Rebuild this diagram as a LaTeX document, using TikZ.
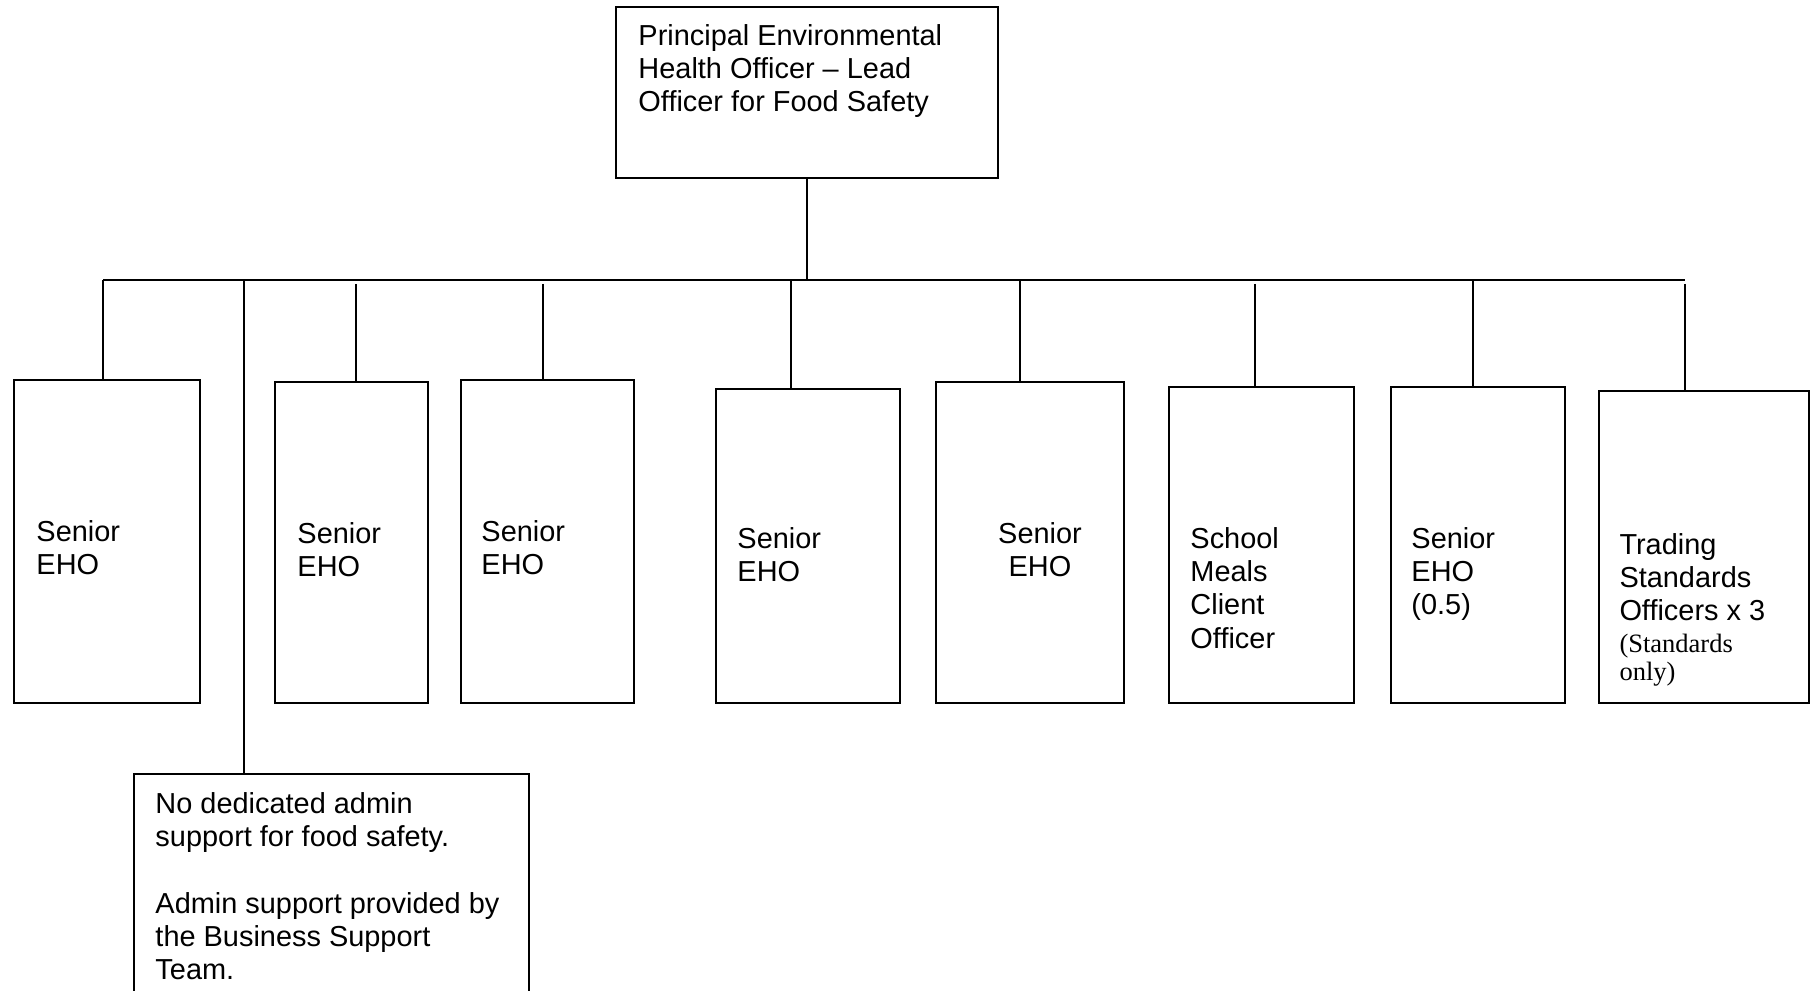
\documentclass[tikz,border=0pt]{standalone}
\usepackage{fontspec}
\setmainfont{Liberation Sans}
\newfontfamily\timesfont{Liberation Serif}
\usetikzlibrary{fit}
\tikzset{
    x=0.415pt, % one unit is one pixel of the chart
    y=-0.415pt, % y runs downwards, as on the page
    every node/.style={font=\fontsize{12}{13.8}\selectfont}, % Arial-like 12pt text
    post/.style={draw, line width=0.8pt, inner sep=0pt}, % the boxes of the chart
    words/.style={inner sep=0pt, align=left}, % the text set inside a box
    link/.style={line width=0.8pt}, % the lines joining the boxes
}

\begin{document}
\begin{tikzpicture}
    \useasboundingbox (0,0) rectangle (1815,991);
    % top of the chart
    \node[post, fit={(616,7) (998,178)}] (peho) {};
    \node[words, anchor=north west] (pehotxt) at (638,24) {Principal Environmental\\Health Officer – Lead\\Officer for Food Safety};
    % the row of posts
    \node[post, fit={(14,380) (200,703)}] (seho1) {};
    \node[words, anchor=north west] (seho1txt) at (36,520) {Senior\\EHO};
    \node[post, fit={(275,382) (428,703)}] (seho2) {};
    \node[words, anchor=north west] (seho2txt) at (297,522) {Senior\\EHO};
    \node[post, fit={(461,380) (634,703)}] (seho3) {};
    \node[words, anchor=north west] (seho3txt) at (481,520) {Senior\\EHO};
    \node[post, fit={(716,389) (900,703)}] (seho4) {};
    \node[words, anchor=north west] (seho4txt) at (737,527) {Senior\\EHO};
    \node[post, fit={(936,382) (1124,703)}] (seho5) {};
    \node[words, align=center, anchor=north] (seho5txt) at (1040,522) {Senior\\EHO};
    \node[post, fit={(1169,387) (1354,703)}] (meals) {};
    \node[words, anchor=north west] (mealstxt) at (1190,527) {School\\Meals\\Client\\Officer};
    \node[post, fit={(1391,387) (1565,703)}] (seho6) {};
    \node[words, anchor=north west] (seho6txt) at (1411,527) {Senior\\EHO\\(0.5)};
    \node[post, fit={(1599,391) (1809,703)}] (tso) {};
    \node[words, anchor=north west] (tsotxt) at (1619,533) {Trading\\Standards\\Officers x 3\\[-0.8pt]{\timesfont\fontsize{11}{12}\selectfont (Standards}\\[-2.2pt]{\timesfont\fontsize{11}{12}\selectfont only)}};
    % admin note, cut off at the foot of the page
    \node[post, fit={(134,774) (529,1000)}] (adm) {};
    \node[words, anchor=north west] (admtxt) at (155,792) {No dedicated admin\\support for food safety.\\[13.8pt]Admin support provided by\\the Business Support\\Team.};
    % the lines
    \coordinate (bl) at (103,280);
    \coordinate (br) at (1685,280);
    \coordinate (t2) at (244,280);
    \coordinate (t3) at (356,284);
    \coordinate (t4) at (543,284);
    \coordinate (t5) at (791,280);
    \coordinate (t6) at (1020,280);
    \coordinate (t7) at (1255,284);
    \coordinate (t8) at (1473,280);
    \coordinate (t9) at (1685,284);
    \draw[link] (bl) -- (br);
    \draw[link] (peho.south) -- (peho.south |- bl);
    \draw[link] (bl) -- (bl |- seho1.north);
    \draw[link] (t2) -- (t2 |- adm.north);
    \draw[link] (t3) -- (t3 |- seho2.north);
    \draw[link] (t4) -- (t4 |- seho3.north);
    \draw[link] (t5) -- (t5 |- seho4.north);
    \draw[link] (t6) -- (t6 |- seho5.north);
    \draw[link] (t7) -- (t7 |- meals.north);
    \draw[link] (t8) -- (t8 |- seho6.north);
    \draw[link] (t9) -- (t9 |- tso.north);
\end{tikzpicture}
\end{document}
